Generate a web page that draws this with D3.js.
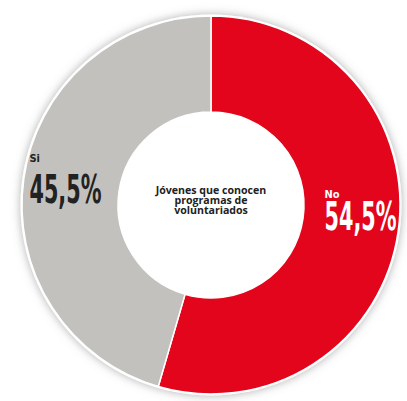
<!DOCTYPE html>
<html>
<head>
<meta charset="utf-8">
<script src="https://cdn.jsdelivr.net/npm/d3@7"></script>
<style>
  html, body { margin: 0; padding: 0; background: #fff; }
  svg { display: block; }
</style>
</head>
<body>
<div id="container"></div>
<script>
const categories = ["No", "Sí"];
const labels = ["No", "Si"];
const values = [54.5, 45.5];
const valueLabels = ["54,5%", "45,5%"];
const colors = ["#e3051b", "#c2c1be"];
const centerLines = ["Jóvenes que conocen", "programas de", "voluntariados"];

const width = 407;
const height = 401;
const cx = 211, cy = 205;
const outerR = 189, innerR = 93;

const svg = d3.select('#container').append('svg')
  .attr('width', width)
  .attr('height', height);

const defs = svg.append('defs');
const shadow = defs.append('filter').attr('id', 'glow')
  .attr('x', '-20%').attr('y', '-20%').attr('width', '140%').attr('height', '140%');
shadow.append('feGaussianBlur').attr('in', 'SourceAlpha').attr('stdDeviation', 5).attr('result', 'b');
shadow.append('feFlood').attr('flood-color', '#7a7a7a').attr('flood-opacity', 0.6);
shadow.append('feComposite').attr('in2', 'b').attr('operator', 'in').attr('result', 's');
const merge = shadow.append('feMerge');
merge.append('feMergeNode').attr('in', 's');
merge.append('feMergeNode').attr('in', 'SourceGraphic');

const g = svg.append('g').attr('transform', `translate(${cx},${cy})`);

const pie = d3.pie().sort(null).value(d => d)(values);
const arc = d3.arc().innerRadius(innerR).outerRadius(outerR);
const labelArc = d3.arc().innerRadius(147).outerRadius(147);

// shadow ring with white rim
g.append('circle')
  .attr('r', outerR + 1.5)
  .attr('fill', '#fff')
  .attr('filter', 'url(#glow)');

g.selectAll('path.slice')
  .data(pie)
  .join('path')
  .attr('class', 'slice')
  .attr('d', arc)
  .attr('fill', (d, i) => colors[i])
  .attr('stroke', '#fff')
  .attr('stroke-width', 1.5);

// labels: [dx, dy of small label, dy of value]
const labelPos = [[-32, -28, 4], [-36, -22, 19]];
const lg = g.selectAll('g.lbl')
  .data(pie)
  .join('g')
  .attr('class', 'lbl')
  .attr('transform', (d, i) => {
    const c = labelArc.centroid(d);
    return `translate(${c[0] + labelPos[i][0]},${c[1]})`;
  });

lg.append('text')
  .attr('x', 0)
  .attr('y', (d, i) => labelPos[i][1])
  .attr('font-family', '"Liberation Sans Narrow", "DejaVu Sans Condensed", sans-serif')
  .attr('font-weight', 'bold')
  .attr('font-size', 11)
  .attr('fill', (d, i) => i === 0 ? '#fff' : '#222')
  .text((d, i) => labels[i]);

lg.append('text')
  .attr('x', 0)
  .attr('y', (d, i) => labelPos[i][2])
  .attr('font-family', '"Liberation Sans Narrow", "DejaVu Sans Condensed", sans-serif')
  .attr('font-weight', 'bold')
  .attr('font-size', 39)
  .attr('textLength', 72)
  .attr('lengthAdjust', 'spacingAndGlyphs')
  .attr('fill', (d, i) => i === 0 ? '#fff' : '#222')
  .text((d, i) => valueLabels[i]);

// center text
g.append('text')
  .attr('text-anchor', 'middle')
  .attr('font-family', '"Open Sans", sans-serif')
  .attr('font-weight', 'bold')
  .attr('font-size', 10.6)
  .attr('fill', '#222')
  .selectAll('tspan')
  .data(centerLines)
  .join('tspan')
  .attr('x', 0)
  .attr('y', (d, i) => -11 + i * 10)
  .text(d => d);
</script>
</body>
</html>
